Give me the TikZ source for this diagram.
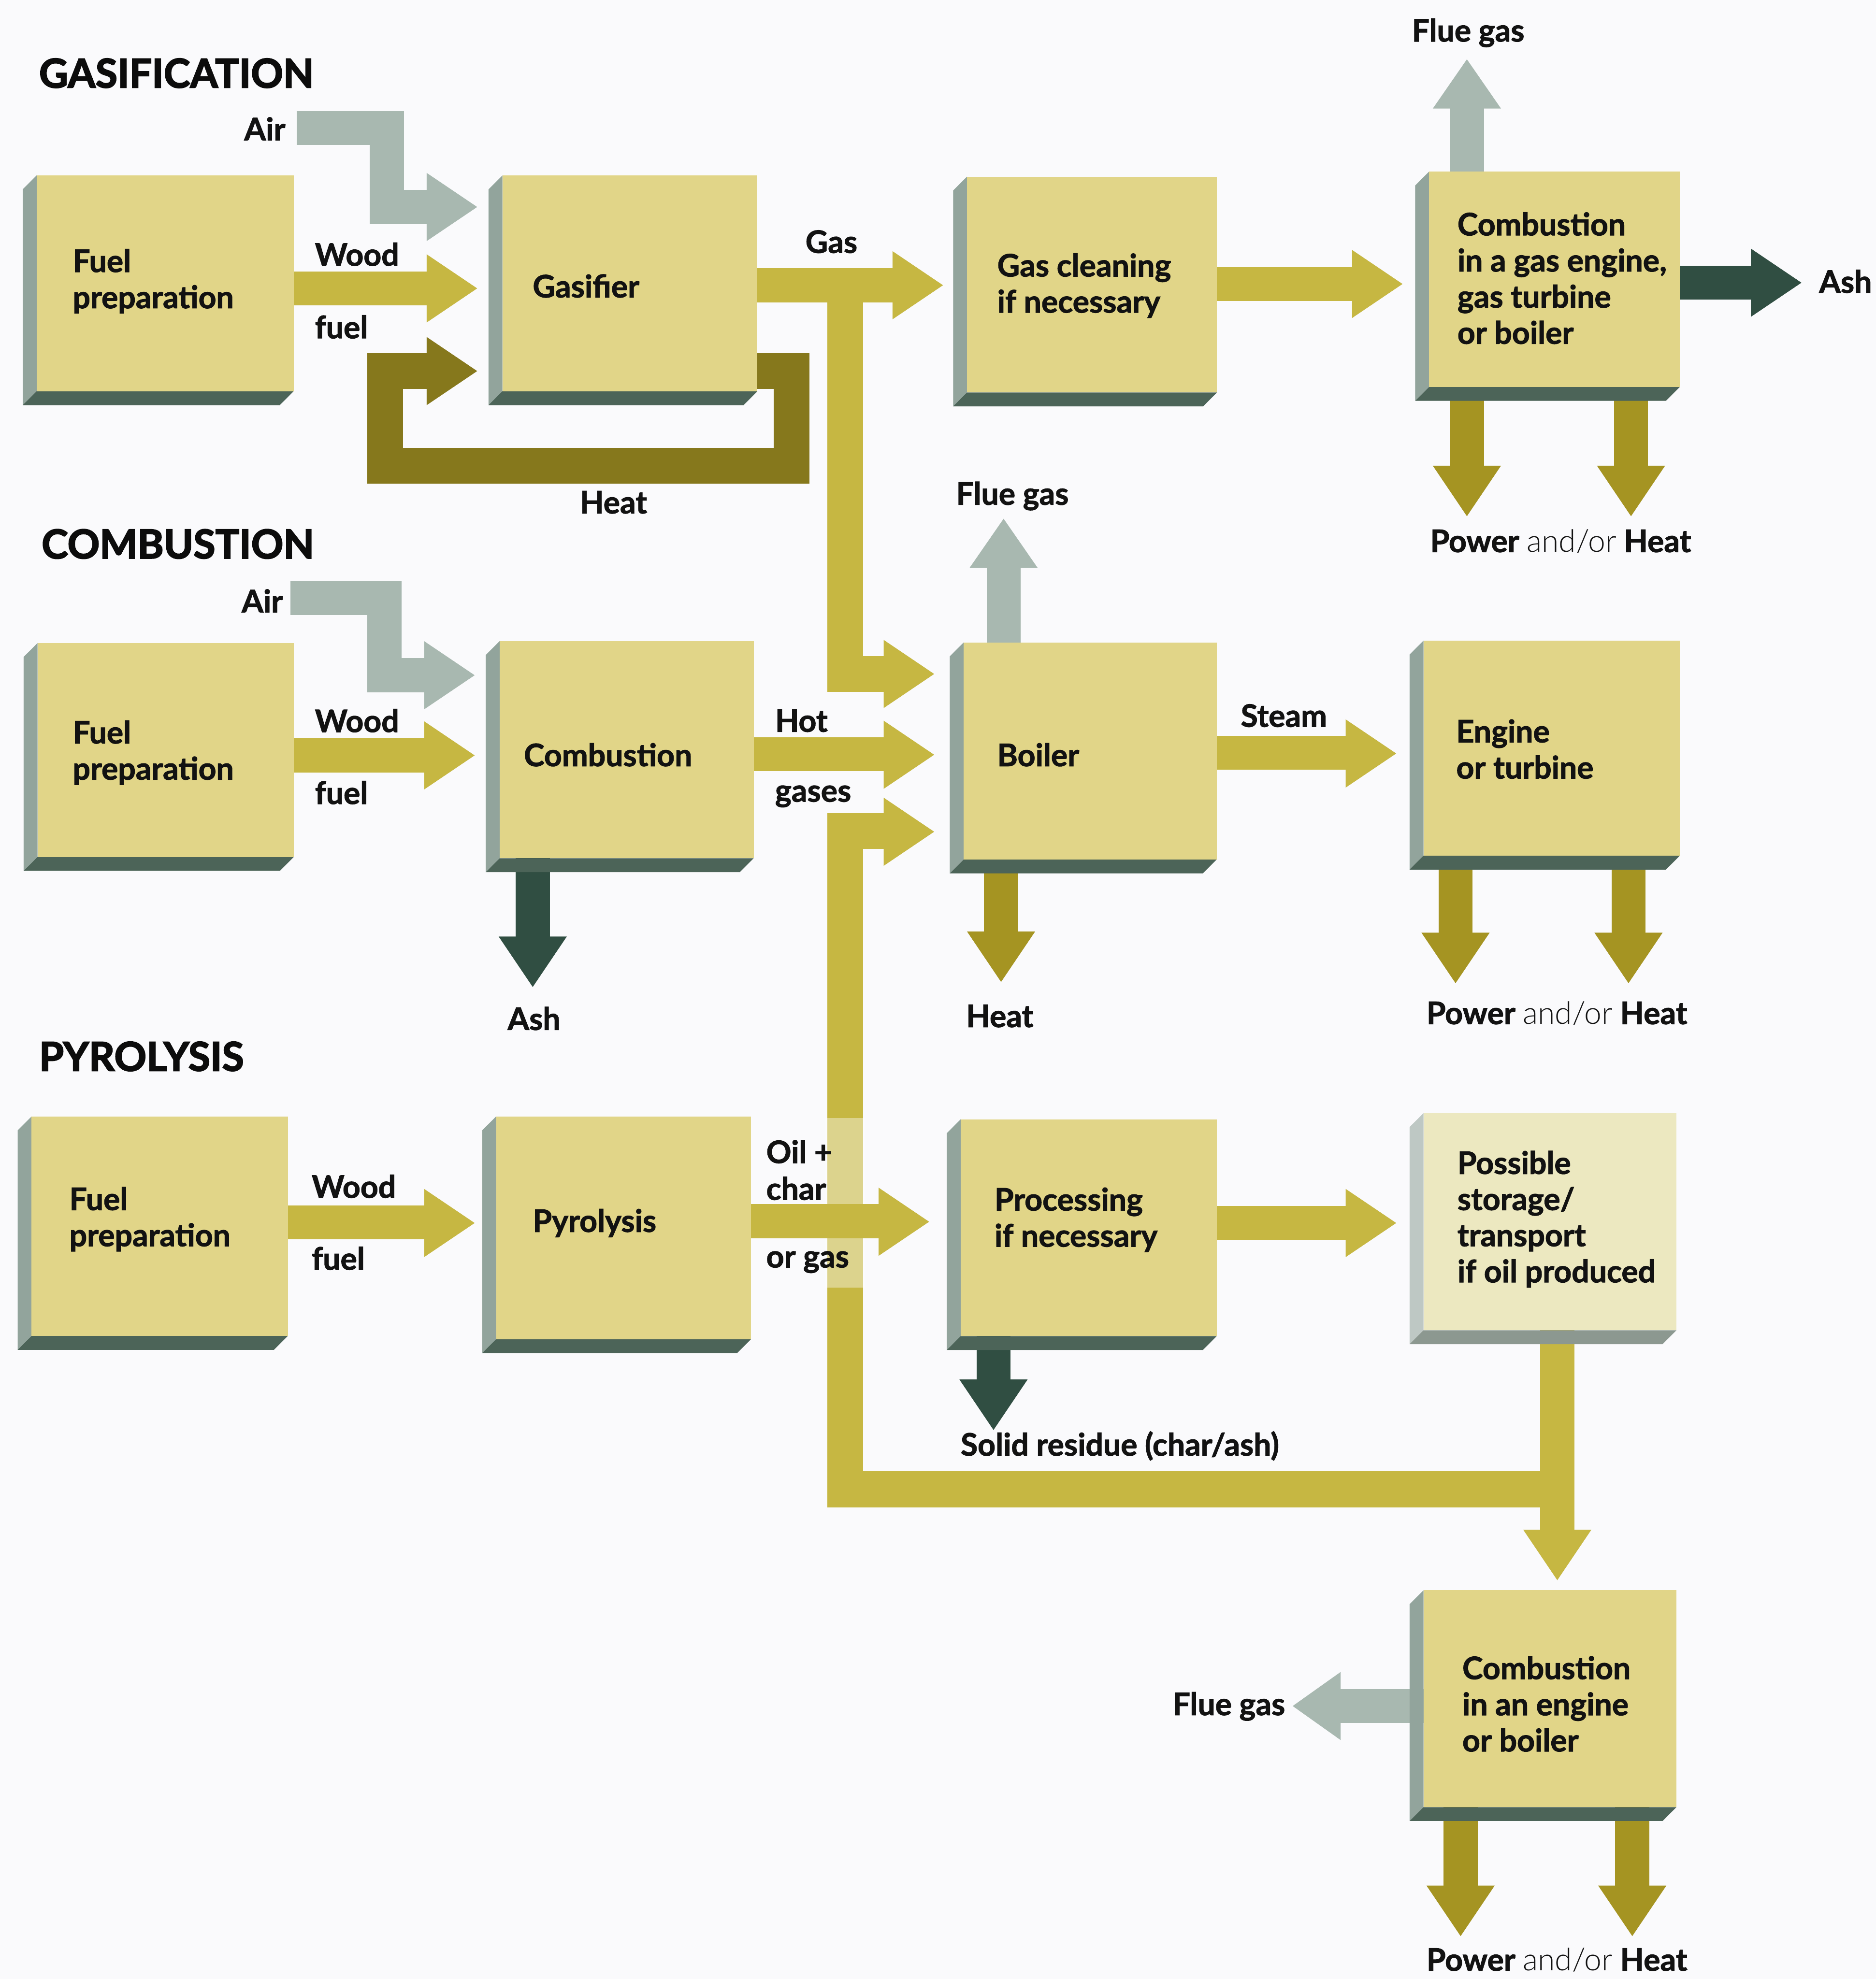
\documentclass[tikz,border=0pt]{standalone}
\usepackage{fontspec}
\setmainfont{Lato}
\newfontfamily\heavyfont{Lato}[UprightFont={* Bold}, FakeBold=2.6]
\newfontfamily\labelfont{Lato}[UprightFont={* Bold}, FakeBold=1.6]
\IfFontExistsTF{Lato Light}{\newfontfamily\lightfont{Lato Light}}{\newfontfamily\lightfont{Lato}}
\definecolor{bg}{RGB}{250,250,252}
\definecolor{face}{RGB}{225,213,136}
\definecolor{faceL}{RGB}{236,232,192}
\definecolor{side}{RGB}{146,164,156}
\definecolor{sideL}{RGB}{190,200,196}
\definecolor{bottomc}{RGB}{76,100,88}
\definecolor{bottomL}{RGB}{140,152,144}
\definecolor{olive}{RGB}{198,183,66}
\definecolor{oliveD}{RGB}{165,148,34}
\definecolor{heatc}{RGB}{134,120,28}
\definecolor{greyA}{RGB}{168,184,176}
\definecolor{darkA}{RGB}{48,78,66}
\tikzset{
  lbl/.style={inner sep=0pt, outer sep=0pt, font=\fontsize{14}{16.3}\selectfont\labelfont, text={rgb,255:red,18;green,18;blue,18}},
  boxtxt/.style={lbl, align=left, anchor=west},
  ttl/.style={inner sep=0pt, outer sep=0pt, font=\fontsize{18}{20}\selectfont\heavyfont, anchor=west, text={rgb,255:red,12;green,12;blue,12}},
  shaft/.style={line width=0.54cm},
  bar/.style={line width=0.57cm}
}
% box: name, x0, y0, x1, y1, face, side, bottom
\newcommand\pbox[8]{%
  \fill[#7] (#2,#3) -- (#2-11,#3+11) -- (#2-11,#5+11) -- (#2,#5) -- cycle;
  \fill[#8] (#2,#5) -- (#4,#5) -- (#4-11,#5+11) -- (#2-11,#5+11) -- cycle;
  \node[fill=#6, inner sep=0pt, outer sep=0pt, anchor=north west,
        minimum width={(#4-#2)*0.02cm}, minimum height={(#5-#3)*0.02cm}] (#1) at (#2,#3) {};
}
% arrow heads: colour, base x / centre x, centre y / base y
\newcommand\hR[3]{\fill[#1] (#2,#3-27) -- (#2+40,#3) -- (#2,#3+27) -- cycle;}
\newcommand\hL[3]{\fill[#1] (#2,#3-27) -- (#2-38,#3) -- (#2,#3+27) -- cycle;}
\newcommand\hD[3]{\fill[#1] (#2-27,#3) -- (#2,#3+40) -- (#2+27,#3) -- cycle;}
\newcommand\hU[3]{\fill[#1] (#2-27,#3) -- (#2,#3-39) -- (#2+27,#3) -- cycle;}
\newcommand\pwrtext{Power {\lightfont and/or} Heat}
\begin{document}
\begin{tikzpicture}[x=0.02cm,y=-0.02cm]
\useasboundingbox (0,0) rectangle (1486,1568);
\fill[bg] (0,0) rectangle (1486,1568);

% ---------------- connectors (behind boxes) ----------------
% Gasification row
\draw[shaft,greyA] (235,101.5) -- (306.5,101.5) -- (306.5,164) -- (339,164);
\hR{greyA}{338}{164}
\draw[shaft,olive] (230,228.5) -- (339,228.5);
\hR{olive}{338}{228.5}
\draw[bar,heatc] (598,294) -- (627,294) -- (627,369) -- (305,369) -- (305,294) -- (339,294);
\hR{heatc}{338}{294}
\draw[shaft,olive] (598,226) -- (708,226);
\hR{olive}{707}{226}
\draw[bar,olive] (669.5,226) -- (669.5,534) -- (701,534);
\hR{olive}{700}{534}
\draw[shaft,olive] (962,225) -- (1072,225);
\hR{olive}{1071}{225}
\draw[shaft,greyA] (1162,140) -- (1162,85);
\hU{greyA}{1162}{86}
\draw[shaft,darkA] (1328,224) -- (1388,224);
\hR{darkA}{1387}{224}
\draw[shaft,oliveD] (1162,305) -- (1162,370);
\hD{oliveD}{1162}{369}
\draw[shaft,oliveD] (1292,305) -- (1292,370);
\hD{oliveD}{1292}{369}

% Combustion row
\draw[shaft,greyA] (230,473.7) -- (304.5,473.7) -- (304.5,535) -- (337,535);
\hR{greyA}{336}{535}
\draw[shaft,olive] (230,598.5) -- (337,598.5);
\hR{olive}{336}{598.5}
\draw[shaft,olive] (595,597.5) -- (701,597.5);
\hR{olive}{700}{598}
\draw[bar,olive] (1233.6,1180) -- (669.5,1180) -- (669.5,658.5) -- (701,658.5);
\hR{olive}{700}{659}
\draw[shaft,darkA] (422,678) -- (422,743);
\hD{darkA}{422}{742}
\draw[shaft,greyA] (795,515) -- (795,449);
\hU{greyA}{795}{450}
\draw[shaft,olive] (962,596.5) -- (1067,596.5);
\hR{olive}{1066}{597}
\draw[shaft,oliveD] (793,678) -- (793,739);
\hD{oliveD}{793}{738}
\draw[shaft,oliveD] (1153,676) -- (1153,740);
\hD{oliveD}{1153}{739}
\draw[shaft,oliveD] (1290,676) -- (1290,740);
\hD{oliveD}{1290}{739}

% Pyrolysis row
\draw[shaft,olive] (226,968.5) -- (337,968.5);
\hR{olive}{336}{969}
\fill[white,opacity=0.4] (654,886) rectangle (685,1020);
\draw[shaft,olive] (593,967.5) -- (697,967.5);
\hR{olive}{696}{968}
\draw[shaft,olive] (962,969) -- (1067,969);
\hR{olive}{1066}{969}
\draw[shaft,darkA] (787,1056) -- (787,1094);
\hD{darkA}{787}{1093}
\draw[shaft,olive] (1233.6,1052) -- (1233.6,1213);
\hD{olive}{1233.6}{1212}
\draw[shaft,greyA] (1130,1351.7) -- (1061,1351.7);
\hL{greyA}{1062}{1351.7}
\draw[shaft,oliveD] (1157,1430) -- (1157,1495);
\hD{oliveD}{1157}{1494}
\draw[shaft,oliveD] (1293,1430) -- (1293,1495);
\hD{oliveD}{1293}{1494}

% ---------------- boxes ----------------
\pbox{fp1}{29}{139}{232.6}{310}{face}{side}{bottomc}
\pbox{gsf}{398}{139}{600}{310}{face}{side}{bottomc}
\pbox{gcl}{766}{140}{964}{311}{face}{side}{bottomc}
\pbox{cge}{1132}{136}{1330.6}{306.6}{face}{side}{bottomc}
\pbox{fp2}{29.7}{509.5}{232.7}{679}{face}{side}{bottomc}
\pbox{cmb}{395.8}{508}{597}{680}{face}{side}{bottomc}
\pbox{blr}{763.4}{509}{963.8}{681}{face}{side}{bottomc}
\pbox{eng}{1127.6}{507.6}{1330.6}{678}{face}{side}{bottomc}
\pbox{fp3}{25}{884.6}{228}{1058.5}{face}{side}{bottomc}
\pbox{pyr}{393}{884.6}{595}{1061}{face}{side}{bottomc}
\pbox{prc}{761}{886.8}{963.8}{1058.6}{face}{side}{bottomc}
\pbox{sto}{1127.6}{882}{1328}{1054}{faceL}{sideL}{bottomL}
\pbox{ceb}{1127.6}{1260}{1328}{1431.8}{face}{side}{bottomc}

% ---------------- box texts ----------------
\node[boxtxt] (fp1t) at (57.6,222.8) {Fuel\\preparation};
\node[boxtxt] (gsft) at (422,226.6) {Gasifier};
\node[boxtxt] (gclt) at (790,226.3) {Gas cleaning\\if necessary};
\node[boxtxt] (cget) at (1154.5,220.4) {Combustion\\in a gas engine,\\gas turbine\\or boiler};
\node[boxtxt] (fp2t) at (57.6,596.3) {Fuel\\preparation};
\node[boxtxt] (cmbt) at (415,598) {Combustion};
\node[boxtxt] (blrt) at (790,598) {Boiler};
\node[boxtxt] (engt) at (1153.6,593.5) {Engine\\or turbine};
\node[boxtxt] (fp3t) at (55,966) {Fuel\\preparation};
\node[boxtxt] (pyrt) at (422,969) {Pyrolysis};
\node[boxtxt] (prct) at (787.8,966.4) {Processing\\if necessary};
\node[boxtxt] (stot) at (1154.5,966) {Possible\\storage/\\transport\\if oil produced};
\node[boxtxt] (cebt) at (1158.4,1350) {Combustion\\in an engine\\or boiler};

% ---------------- titles and labels ----------------
\node[ttl] (tg) at (31,58) {GASIFICATION};
\node[ttl] (tc) at (33,431) {COMBUSTION};
\node[ttl] (tp) at (31,837) {PYROLYSIS};

\node[lbl,anchor=east] (air1) at (226,102) {Air};
\node[lbl,anchor=west] (wood1) at (249.5,201.5) {Wood};
\node[lbl,anchor=west] (fuel1) at (249.5,259) {fuel};
\node[lbl] (gasl) at (658.6,191.5) {Gas};
\node[lbl] (heat1) at (486,398) {Heat};
\node[lbl] (flue1) at (1163,26) {Flue gas};
\node[lbl,anchor=west] (ash1) at (1441,223) {Ash};
\node[lbl,anchor=west] (pw1) at (1133,429) {\pwrtext};

\node[lbl] (flue2) at (802,393) {Flue gas};
\node[lbl,anchor=east] (air2) at (224,476) {Air};
\node[lbl,anchor=west] (wood2) at (249.5,571) {Wood};
\node[lbl,anchor=west] (fuel2) at (249.5,628) {fuel};
\node[lbl,anchor=west] (hot) at (614,571) {Hot};
\node[lbl,anchor=west] (gases) at (614,631) {gases};
\node[lbl] (steam) at (1017,567) {Steam};
\node[lbl] (ash2) at (423,807) {Ash};
\node[lbl] (heat2) at (792,805) {Heat};
\node[lbl,anchor=west] (pw2) at (1130,803) {\pwrtext};

\node[lbl,anchor=west] (wood3) at (247,940) {Wood};
\node[lbl,anchor=west] (fuel3) at (247,997) {fuel};
\node[lbl,anchor=west] (oil) at (607,912.5) {Oil +};
\node[lbl,anchor=west] (char) at (607,941.6) {char};
\node[lbl,anchor=west] (orgas) at (607,1000) {or gas};
\node[lbl,anchor=west] (solid) at (761,1145.6) {Solid residue (char/ash)};
\node[lbl,anchor=east] (flue3) at (1018,1352) {Flue gas};
\node[lbl,anchor=west] (pw3) at (1130,1553) {\pwrtext};
\end{tikzpicture}
\end{document}
